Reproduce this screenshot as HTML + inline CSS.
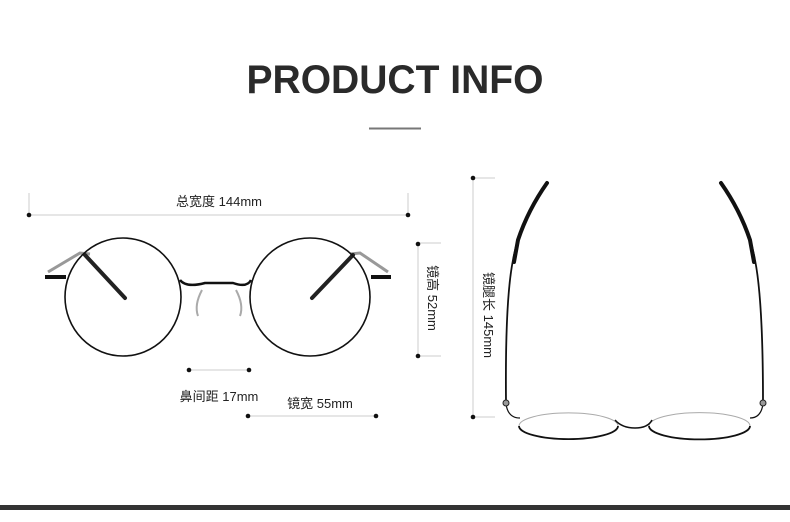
<!DOCTYPE html>
<html><head><meta charset="utf-8"><style>
html,body{margin:0;padding:0;background:#fff;width:790px;height:522px;overflow:hidden}
svg{display:block}
text{font-family:"Liberation Sans","Noto Sans CJK SC",sans-serif;fill:#222}
</style></head><body>
<svg width="790" height="522" viewBox="0 0 790 522" xmlns="http://www.w3.org/2000/svg">
<text x="395" y="93" text-anchor="middle" font-size="40" font-weight="bold" textLength="297" lengthAdjust="spacingAndGlyphs" style="fill:#2a2a2a">PRODUCT INFO</text>
<line x1="369" y1="128.5" x2="421" y2="128.5" stroke="#777" stroke-width="2"/>

<!-- front dims -->
<g stroke="#ccc" stroke-width="1">
<line x1="29" y1="193" x2="29" y2="215"/><line x1="408" y1="193" x2="408" y2="215"/>
<line x1="29" y1="215" x2="408" y2="215"/>
<line x1="418" y1="243" x2="418" y2="356"/><line x1="418" y1="243" x2="441" y2="243"/><line x1="418" y1="356" x2="441" y2="356"/>
<line x1="189" y1="370" x2="249" y2="370"/>
<line x1="248" y1="416" x2="376" y2="416"/>
<line x1="473" y1="178" x2="473" y2="417"/><line x1="473" y1="178" x2="495" y2="178"/><line x1="473" y1="417" x2="495" y2="417"/>
</g>
<g fill="#111">
<circle cx="29" cy="215" r="2.3"/><circle cx="408" cy="215" r="2.3"/>
<circle cx="418" cy="244" r="2.3"/><circle cx="418" cy="356" r="2.3"/>
<circle cx="189" cy="370" r="2.3"/><circle cx="249" cy="370" r="2.3"/>
<circle cx="248" cy="416" r="2.3"/><circle cx="376" cy="416" r="2.3"/>
<circle cx="473" cy="178" r="2.3"/><circle cx="473" cy="417" r="2.3"/>
</g>
<text x="219" y="206" text-anchor="middle" font-size="13">总宽度 144mm</text>
<text x="219" y="401" text-anchor="middle" font-size="13">鼻间距 17mm</text>
<text x="320" y="408" text-anchor="middle" font-size="13">镜宽 55mm</text>
<text transform="translate(428,298) rotate(90)" text-anchor="middle" font-size="13">镜高 52mm</text>
<text transform="translate(484,315) rotate(90)" text-anchor="middle" font-size="13">镜腿长 145mm</text>

<!-- front glasses -->
<g fill="none" stroke="#111">
<path d="M48 272 L80 253 L90 254" stroke="#999" stroke-width="3"/>
<path d="M388 272 L360 253 L350 254" stroke="#999" stroke-width="3"/>
<path d="M85 255 L125 298" stroke="#222" stroke-width="4" stroke-linecap="round"/>
<path d="M353 255 L312 298" stroke="#222" stroke-width="4" stroke-linecap="round"/>
<ellipse cx="123" cy="297" rx="58" ry="59" stroke-width="1.6"/>
<ellipse cx="310" cy="297" rx="60" ry="59" stroke-width="1.6"/>
<path d="M180 280 Q186 288 205 283 L233 283 Q247 288 251 280" stroke-width="2.5"/>
<path d="M45 277 L66 277" stroke-width="4"/>
<path d="M371 277 L391 277" stroke-width="4"/>
<path d="M202 290 Q194 305 198 316" stroke="#aaa" stroke-width="2"/>
<path d="M236 290 Q244 305 240 316" stroke="#aaa" stroke-width="2"/>
</g>

<!-- top view -->
<g fill="none" stroke="#111">
<path d="M547 183 Q520 220 513 260 Q505 300 506 402" stroke-width="1.8"/>
<path d="M547 183 Q528 210 518 240 L514 262" stroke-width="4" stroke-linecap="round"/>
<path d="M721 183 Q748 220 755 260 Q763 300 763 402" stroke-width="1.8"/>
<path d="M721 183 Q740 210 750 240 L754 262" stroke-width="4" stroke-linecap="round"/>
<path d="M506 404 Q508 418 520 418" stroke-width="1.2"/>
<path d="M763 404 Q761 418 750 418" stroke-width="1.2"/>
<path d="M519 426 A49 13 0 0 0 618 426" stroke-width="1.8"/>
<path d="M519 426 A49 13 0 0 1 618 426" stroke="#aaa" stroke-width="1"/>
<path d="M649 426 A49 13 0 0 0 750 426" stroke-width="1.8"/>
<path d="M649 426 A49 13 0 0 1 750 426" stroke="#aaa" stroke-width="1"/>
<path d="M615 420 Q622 428 635 428 Q648 428 652 420" stroke-width="1.5"/>
</g>
<circle cx="506" cy="403" r="3" fill="#999" stroke="#222"/>
<circle cx="763" cy="403" r="3" fill="#999" stroke="#222"/>

<rect x="0" y="505" width="790" height="5" fill="#333"/>
</svg>
</body></html>
